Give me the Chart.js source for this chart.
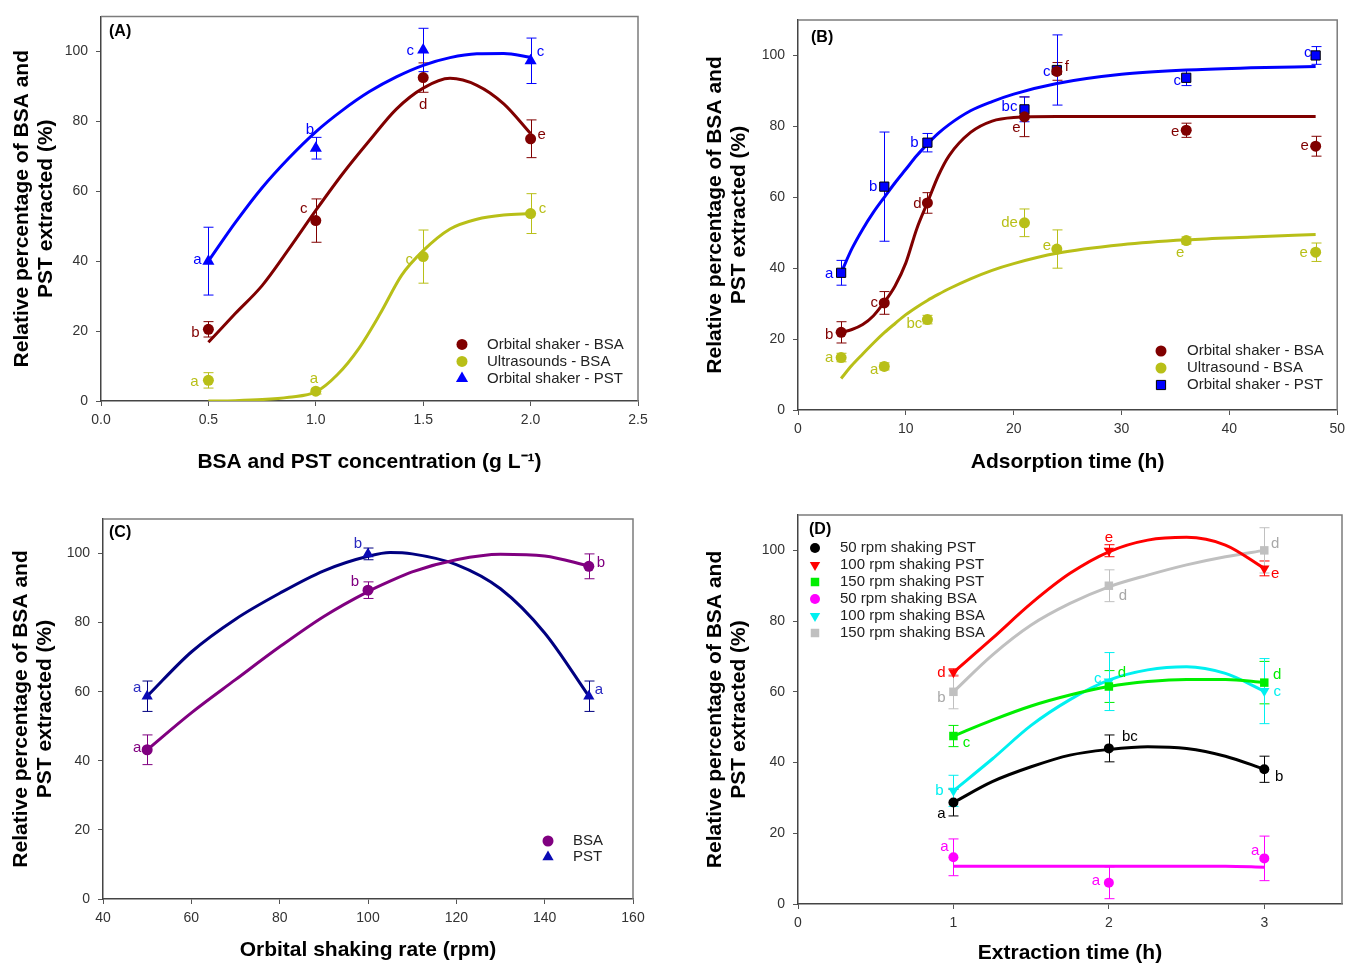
<!DOCTYPE html>
<html>
<head>
<meta charset="utf-8">
<script src="https://cdn.jsdelivr.net/npm/chart.js@4.4.1/dist/chart.umd.min.js"></script>
<style>
  body { margin: 0; background: #fff; }
  #wrap { position: relative; width: 1351px; height: 964px; overflow: hidden; }
  canvas { position: absolute; }
</style>
</head>
<body>
<div id="wrap">
  <canvas id="chA" width="670" height="490" style="left:0;top:0"></canvas>
  <canvas id="chB" width="661" height="490" style="left:690px;top:0"></canvas>
  <canvas id="chC" width="670" height="474" style="left:0;top:490px"></canvas>
  <canvas id="chD" width="661" height="474" style="left:690px;top:490px"></canvas>
</div>
<script>
// ---- Panel A: concentration ----
var concA = [0.5, 1.0, 1.5, 2.0]
var orbBsaA = [20.5, 51.6, 92.5, 75.0]
var orbBsaAErr = [2.2, 6.2, 4.2, 5.4]
var orbBsaALbl = ['b', 'c', 'd', 'e']
var ultBsaA = [5.9, 2.8, 41.3, 53.6]
var ultBsaAErr = [2.2, 0.8, 7.6, 5.7]
var ultBsaALbl = ['a', 'a', 'c', 'c']
var orbPstA = [40.0, 72.3, 100.4, 97.3]
var orbPstAErr = [9.7, 3.1, 6.2, 6.5]
var orbPstALbl = ['a', 'b', 'c', 'c']
var fitXA = [0.5, 0.625, 0.75, 0.875, 1.0, 1.125, 1.25, 1.375, 1.5, 1.625, 1.75, 1.875, 2.0]
var fitOrbBsaA = [16.8, 25, 33, 43.5, 54.5, 65, 74.5, 83.5, 89.5, 92.3, 90.3, 85, 76.5]
var fitOrbPstA = [40, 51, 61, 69.5, 77, 83.2, 88.5, 92.7, 96, 98.2, 99.3, 99.4, 98.3]
var fitXA2 = [0.5, 0.625, 0.75, 0.875, 1.0, 1.1, 1.2, 1.3, 1.4, 1.5, 1.625, 1.75, 1.875, 2.0]
var fitUltBsaA = [0, 0.1, 0.4, 1.1, 2.6, 7.5, 15, 25, 36, 43, 49.2, 52, 53.2, 53.6]

// ---- Panel B: adsorption time ----
var timeB = [4, 8, 12, 21, 24, 36, 48]
var orbBsaB = [21.9, 30.2, 58.4, 82.7, 95.5, 78.9, 74.4]
var orbBsaBErr = [3.0, 3.2, 2.9, 5.6, 2.5, 2.0, 2.8]
var orbBsaBLbl = ['b', 'c', 'd', 'e', 'f', 'e', 'e']
var ultBsaB = [14.8, 12.3, 25.5, 52.8, 45.4, 47.8, 44.5]
var ultBsaBErr = [1.2, 1.0, 1.2, 3.9, 5.4, 1.0, 2.6]
var ultBsaBLbl = ['a', 'a', 'bc', 'de', 'e', 'e', 'e']
var orbPstB = [38.7, 63.0, 75.4, 84.8, 95.9, 93.7, 100.0]
var orbPstBErr = [3.5, 15.4, 2.6, 3.5, 9.9, 2.2, 2.5]
var orbPstBLbl = ['a', 'b', 'b', 'bc', 'c', 'c', 'c']
var fitXB = [4, 5, 6, 7, 8, 9, 10, 11, 12, 13, 14, 16, 18, 20, 24, 30, 36, 42, 48]
var fitOrbBsaB = [21.9, 22.7, 24.1, 26.6, 30.4, 35, 41.5, 51, 58.5, 66, 71.7, 78.3, 81.5, 82.5, 82.8, 82.8, 82.8, 82.8, 82.8]
var fitUltBsaB = [8.9, 12.6, 15.8, 18.9, 21.8, 24.4, 26.9, 29, 30.9, 32.6, 34.2, 37, 39.4, 41.3, 44.2, 46.6, 48, 48.8, 49.5]
var fitOrbPstB = [38.7, 45.5, 51, 55.8, 60, 64.1, 67.9, 71.7, 75, 78, 80.5, 84.4, 87, 89.1, 92.1, 94.7, 95.9, 96.5, 96.9]

// ---- Panel C: shaking rate ----
var rpmC = [50, 100, 150]
var bsaC = [43.2, 89.4, 96.3]
var bsaCErr = [4.3, 2.4, 3.6]
var bsaCLbl = ['a', 'b', 'b']
var pstC = [58.7, 99.9, 58.7]
var pstCErr = [4.4, 1.7, 4.4]
var pstCLbl = ['a', 'b', 'a']
var fitXC = [50, 60, 70, 80, 90, 100, 105, 110, 120, 130, 140, 150]
var fitBsaC = [43.2, 53.9, 63.5, 73, 81.8, 89, 92, 94.7, 98.2, 99.8, 99.3, 96.4]
var fitPstC = [58.7, 71.5, 81, 88.5, 95, 99.2, 100.3, 99.9, 96.8, 89.8, 77, 58.7]

// ---- Panel D: extraction time ----
var timeD = [1, 2, 3]
var pst50D = [28.7, 44.0, 38.1]
var pst50DErr = [3.8, 3.8, 3.7]
var pst50DLbl = ['a', 'bc', 'b']
var pst100D = [65.5, 99.9, 94.9]
var pst100DErr = [1.0, 1.7, 2.1]
var pst100DLbl = ['d', 'e', 'e']
var pst150D = [47.5, 61.5, 62.6]
var pst150DErr = [3.0, 4.5, 6.0]
var pst150DLbl = ['c', 'd', 'd']
var bsa50D = [13.2, 6.0, 12.9]
var bsa50DErr = [5.2, 4.5, 6.3]
var bsa50DLbl = ['a', 'a', 'a']
var bsa100D = [32.0, 62.9, 60.2]
var bsa100DErr = [4.4, 8.2, 9.2]
var bsa100DLbl = ['b', 'c', 'c']
var bsa150D = [60.0, 90.0, 100.0]
var bsa150DErr = [4.8, 4.5, 6.4]
var bsa150DLbl = ['b', 'd', 'd']
var fitXD = [1, 1.25, 1.5, 1.75, 2, 2.25, 2.5, 2.75, 3]
var fitPst50D = [28.7, 34.6, 38.8, 42.1, 43.7, 44.5, 44, 41.8, 38.1]
var fitPst100D = [65.5, 75.1, 85, 93.5, 99.6, 102.9, 103.7, 101.5, 94.9]
var fitPst150D = [47.5, 52, 56, 59.1, 61.5, 62.9, 63.5, 63.5, 62.6]
var fitBsa50D = [10.7, 10.7, 10.7, 10.7, 10.7, 10.7, 10.7, 10.7, 10.4]
var fitBsa100D = [32, 41, 50.5, 57.8, 63.3, 66.2, 67.1, 65.2, 60.2]
var fitBsa150D = [60, 70.4, 78.9, 85, 89.7, 93, 95.9, 98.2, 100]

var FONT = "'Liberation Sans', Arial, Helvetica, sans-serif"
var Y_TITLE = ['Relative percentage of BSA and', 'PST extracted (%)']

// draws frame, error bars, letters, legend and panel tag
var extras = {
    id: 'extras',
    beforeDatasetsDraw(chart) {
        var ctx = chart.ctx, a = chart.chartArea, x = chart.scales.x, y = chart.scales.y
        ctx.save()
        ctx.strokeStyle = '#7c7c7c'
        ctx.lineWidth = 1.5
        ctx.beginPath()
        ctx.moveTo(a.left, a.top); ctx.lineTo(a.right, a.top); ctx.lineTo(a.right, a.bottom)
        ctx.stroke()
        chart.data.datasets.forEach(ds => {
            if (!ds.err) return
            ctx.strokeStyle = ds.errColor
            ctx.lineWidth = 1
            ds.data.forEach((p, i) => {
                var px = Math.round(x.getPixelForValue(p.x)) + 0.5
                var t = y.getPixelForValue(p.y + ds.err[i]), b = y.getPixelForValue(p.y - ds.err[i])
                ctx.beginPath()
                ctx.moveTo(px, t); ctx.lineTo(px, b)
                ctx.moveTo(px - 5, t); ctx.lineTo(px + 5, t)
                ctx.moveTo(px - 5, b); ctx.lineTo(px + 5, b)
                ctx.stroke()
            })
        })
        ctx.restore()
    },
    afterDatasetsDraw(chart) {
        var ctx = chart.ctx, a = chart.chartArea, x = chart.scales.x, y = chart.scales.y
        var lg = chart.options.plugins.extras
        ctx.save()
        ctx.font = '15px ' + FONT
        ctx.textAlign = 'center'
        ctx.textBaseline = 'middle'
        chart.data.datasets.forEach(ds => {
            if (!ds.letters) return
            ctx.fillStyle = ds.txtColor
            ds.data.forEach((p, i) => {
                var o = ds.offs[i]
                ctx.fillText(ds.letters[i], x.getPixelForValue(p.x) + o[0], y.getPixelForValue(p.y) + o[1])
            })
        })
        // legend
        var n = 0
        chart.data.datasets.forEach(ds => {
            if (!ds.legendName) return
            var ly = a.top + lg.ly + n * lg.step
            ctx.fillStyle = ds.pointBackgroundColor
            ctx.strokeStyle = ds.pointBorderColor
            Chart.helpers.drawPoint(ctx, {pointStyle: ds.pointStyle, radius: ds.pointRadius, rotation: ds.pointRotation || 0, borderWidth: ds.pointBorderWidth}, a.left + lg.mx, ly)
            ctx.fillStyle = '#222'
            ctx.textAlign = 'left'
            ctx.font = '15px ' + FONT
            ctx.fillText(ds.legendName, a.left + lg.tx, ly)
            n++
        })
        ctx.fillStyle = '#000'
        ctx.textAlign = 'left'
        ctx.font = 'bold 16px ' + FONT
        ctx.fillText(lg.tag, a.left + lg.tagX, a.top + lg.tagY)
        ctx.restore()
    }
}

function makePanel(id, cfg) {
    var datasets = []
    cfg.series.forEach(s => {
        datasets.push({
            data: s.fx.map((v, i) => ({x: v, y: s.fy[i]})),
            showLine: true, borderColor: s.st.line || s.st.color, borderWidth: 3,
            pointRadius: 0, pointHoverRadius: 0, cubicInterpolationMode: 'monotone', order: 2
        })
    })
    cfg.series.forEach(s => {
        datasets.push({
            data: s.x.map((v, i) => ({x: v, y: s.y[i]})),
            showLine: false, order: 1,
            pointStyle: s.st.shape, pointRadius: s.st.r, pointHoverRadius: s.st.r, pointRotation: s.st.rot || 0,
            pointBackgroundColor: s.st.color, pointBorderColor: s.st.edge || s.st.color,
            pointBorderWidth: s.st.edge ? 1 : 0,
            err: s.err, letters: s.lbl, offs: s.st.off,
            errColor: s.st.line || s.st.color, txtColor: s.st.txt || s.st.color,
            legendName: s.name
        })
    })
    var ax = cfg.area
    var c = document.getElementById(id)
    return new Chart(c.getContext('2d'), {
        type: 'scatter',
        data: {datasets: datasets},
        options: {
            responsive: false, animation: false, devicePixelRatio: 1,
            layout: {padding: {left: 0, top: ax.top, right: c.width - ax.right, bottom: 0}},
            plugins: {legend: {display: false}, tooltip: {enabled: false}, extras: cfg.legend},
            scales: {
                x: {
                    type: 'linear', min: cfg.xMin, max: cfg.xMax,
                    ticks: {stepSize: cfg.xStep, includeBounds: false, color: '#333', padding: 6,
                        font: {family: FONT, size: 14}, callback: cfg.xFmt},
                    grid: {display: true, drawOnChartArea: false, drawTicks: true, tickLength: 5, color: '#555'},
                    border: {display: true, color: '#444', width: 1.5},
                    title: {display: true, text: cfg.xTitle, color: '#000',
                        font: {family: FONT, size: 21, weight: 'bold', lineHeight: 1},
                        padding: {top: 0, bottom: ax.xTitlePad}},
                    afterFit: s => { s.height = c.height - ax.bottom }
                },
                y: {
                    type: 'linear', min: 0, max: 110,
                    ticks: {stepSize: 20, includeBounds: false, color: '#333', padding: 8,
                        font: {family: FONT, size: 14}},
                    grid: {display: true, drawOnChartArea: false, drawTicks: true, tickLength: 5, color: '#555'},
                    border: {display: true, color: '#444', width: 1.5},
                    title: {display: true, text: Y_TITLE, color: '#000',
                        font: {family: FONT, size: 21, weight: 'bold', lineHeight: 1.15},
                        padding: {top: ax.yTitlePad, bottom: 0}},
                    afterFit: s => { s.width = ax.left }
                }
            }
        },
        plugins: [extras]
    })
}

var OLIVE = '#b8bf18'

makePanel('chA', {
    area: {left: 101, top: 13, right: 638, bottom: 401, xTitlePad: 17.5, yTitlePad: 10},
    xMin: 0, xMax: 2.5, xStep: 0.5, xFmt: v => v.toFixed(1),
    xTitle: 'BSA and PST concentration (g L\u207B\u00B9)',
    legend: {mx: 361, tx: 386, ly: 328, step: 17, tag: '(A)', tagX: 8, tagY: 15},
    series: [
        {x: concA, y: orbBsaA, err: orbBsaAErr, lbl: orbBsaALbl, fx: fitXA, fy: fitOrbBsaA, name: 'Orbital shaker - BSA',
         st: {color: '#800000', shape: 'circle', r: 5.5, off: [[-13, 4], [-12, -12], [0, 27], [11, -4]]}},
        {x: concA, y: ultBsaA, err: ultBsaAErr, lbl: ultBsaALbl, fx: fitXA2, fy: fitUltBsaA, name: 'Ultrasounds - BSA',
         st: {color: OLIVE, shape: 'circle', r: 5.5, off: [[-14, 1], [-2, -12], [-14, 3], [12, -5]]}},
        {x: concA, y: orbPstA, err: orbPstAErr, lbl: orbPstALbl, fx: fitXA, fy: fitOrbPstA, name: 'Orbital shaker - PST',
         st: {color: '#0000ff', shape: 'triangle', r: 7, off: [[-11, -1], [-6, -18], [-13, 1], [10, -9]]}}
    ]
})

makePanel('chB', {
    area: {left: 108, top: 20, right: 651, bottom: 410, xTitlePad: 17.5, yTitlePad: 13.3},
    xMin: 0, xMax: 50, xStep: 10, xFmt: v => v,
    xTitle: 'Adsorption time (h)',
    legend: {mx: 363, tx: 389, ly: 331, step: 17, tag: '(B)', tagX: 13, tagY: 18},
    series: [
        {x: timeB, y: orbBsaB, err: orbBsaBErr, lbl: orbBsaBLbl, fx: fitXB, fy: fitOrbBsaB, name: 'Orbital shaker - BSA',
         st: {color: '#800000', shape: 'circle', r: 5.5, off: [[-12, 3], [-10, 0], [-10, 1], [-8, 11], [10, -5], [-11, 2], [-11, 0]]}},
        {x: timeB, y: ultBsaB, err: ultBsaBErr, lbl: ultBsaBLbl, fx: fitXB, fy: fitUltBsaB, name: 'Ultrasound - BSA',
         st: {color: OLIVE, shape: 'circle', r: 5.5, off: [[-12, 0], [-10, 3], [-13, 4], [-15, 0], [-10, -3], [-6, 12], [-12, 1]]}},
        {x: timeB, y: orbPstB, err: orbPstBErr, lbl: orbPstBLbl, fx: fitXB, fy: fitOrbPstB, name: 'Orbital shaker - PST',
         st: {color: '#0000ff', edge: '#000', shape: 'rect', r: 6.5, off: [[-12, 1], [-11, 0], [-13, 0], [-15, -2], [-10, 2], [-9, 3], [-8, -3]]}}
    ]
})

makePanel('chC', {
    area: {left: 103, top: 29, right: 633, bottom: 409, xTitlePad: 3.5, yTitlePad: 9},
    xMin: 40, xMax: 160, xStep: 20, xFmt: v => v,
    xTitle: 'Orbital shaking rate (rpm)',
    legend: {mx: 445, tx: 470, ly: 322, step: 16, tag: '(C)', tagX: 6, tagY: 14},
    series: [
        {x: rpmC, y: bsaC, err: bsaCErr, lbl: bsaCLbl, fx: fitXC, fy: fitBsaC, name: 'BSA',
         st: {color: '#800080', shape: 'circle', r: 5.5, off: [[-10, -2], [-13, -8], [12, -3]]}},
        {x: rpmC, y: pstC, err: pstCErr, lbl: pstCLbl, fx: fitXC, fy: fitPstC, name: 'PST',
         st: {color: '#0a0ab4', line: '#000080', txt: '#2a2ac0', shape: 'triangle', r: 6.5, off: [[-10, -8], [-10, -10], [10, -6]]}}
    ]
})

makePanel('chD', {
    area: {left: 108, top: 25, right: 652, bottom: 414, xTitlePad: 0, yTitlePad: 13.4},
    xMin: 0, xMax: 3.5, xStep: 1, xFmt: v => v,
    xTitle: 'Extraction time (h)',
    legend: {mx: 17, tx: 42, ly: 33, step: 17, tag: '(D)', tagX: 11, tagY: 15},
    series: [
        {x: timeD, y: pst50D, err: pst50DErr, lbl: pst50DLbl, fx: fitXD, fy: fitPst50D, name: '50 rpm shaking PST',
         st: {color: '#000000', shape: 'circle', r: 5, off: [[-12, 11], [21, -12], [15, 8]]}},
        {x: timeD, y: pst100D, err: pst100DErr, lbl: pst100DLbl, fx: fitXD, fy: fitPst100D, name: '100 rpm shaking PST',
         st: {color: '#ff0000', shape: 'triangle', rot: 180, r: 6, off: [[-12, 0], [0, -13], [11, 5]]}},
        {x: timeD, y: pst150D, err: pst150DErr, lbl: pst150DLbl, fx: fitXD, fy: fitPst150D, name: '150 rpm shaking PST',
         st: {color: '#00ee00', shape: 'rect', r: 6, off: [[13, 7], [13, -14], [13, -8]]}},
        {x: timeD, y: bsa50D, err: bsa50DErr, lbl: bsa50DLbl, fx: fitXD, fy: fitBsa50D, name: '50 rpm shaking BSA',
         st: {color: '#ff00ff', shape: 'circle', r: 5, off: [[-9, -10], [-13, -2], [-9, -8]]}},
        {x: timeD, y: bsa100D, err: bsa100DErr, lbl: bsa100DLbl, fx: fitXD, fy: fitBsa100D, name: '100 rpm shaking BSA',
         st: {color: '#00f0f0', shape: 'triangle', rot: 180, r: 6, off: [[-14, 0], [-11, -3], [13, 1]]}},
        {x: timeD, y: bsa150D, err: bsa150DErr, lbl: bsa150DLbl, fx: fitXD, fy: fitBsa150D, name: '150 rpm shaking BSA',
         st: {color: '#c0c0c0', txt: '#a8a8a8', shape: 'rect', r: 6, off: [[-12, 6], [14, 10], [11, -7]]}}
    ]
})
</script>
</body>
</html>
